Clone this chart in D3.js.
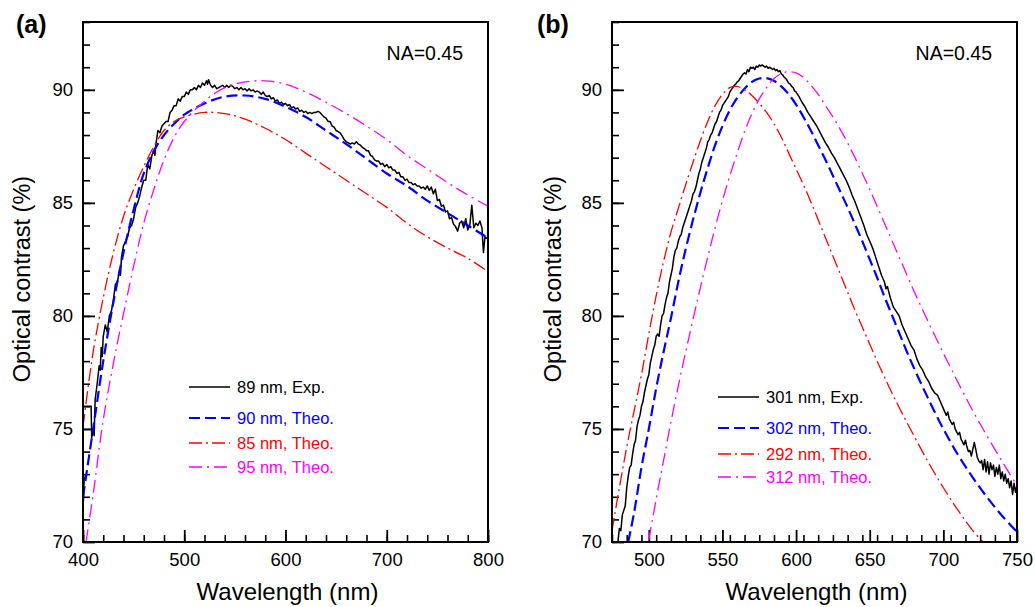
<!DOCTYPE html>
<html>
<head>
<meta charset="utf-8">
<script src="https://cdn.jsdelivr.net/npm/d3@7"></script>
<style>
  body { margin: 0; background: #fff; }
  text { font-family: Arial, "Liberation Sans", sans-serif; }
</style>
</head>
<body>
<div id="chart"></div>
<script>
// ---- panel (a) data: [wavelength nm, contrast %] ----
var expA = [[401.2,72.9],[400.4,71.8],[400,76.0],[408,76.0],[408.6,74.6],[410,75.0],[411,74.7],[412,76.3],[414,77.0],[416,77.8],[417,77.6],
  [418,78.6],[419,78.2],[420,79.1],[422,79.6],[424,79.3],[426,80.0],[428,80.2],[430,80.7],[432,81.4],[434,81.5],[436,82.0],[437,81.8],
  [438,82.6],[440,83.1],[442,83.3],[444,83.5],[446,83.9],[448,84.0],[450,84.3],[452,84.8],[454,85.0],[456,85.3],[458,85.7],[460,86.0],
  [462,86.0],[464,86.7],[466,86.5],[468,87.1],[470,87.3],[471,87.1],[472,87.6],[474,88.2],[476,88.1],[478,88.4],[480,88.5],[482,88.6],
  [484,88.6],[486,89.0],[488,89.1],[490,89.3],[492,89.3],[494,89.6],[496,89.5],[498,89.7],[500,89.7],[502,89.9],[504,89.8],[506,90.0],
  [508,90.0],[510,90.1],[512,90.0],[514,90.2],[516,90.1],[518,90.3],[520,90.2],[522,90.4],[523,90.25],[524,90.45],[526,90.2],[528,90.1],
  [530,90.2],[532,90.05],[534,90.1],[536,90.15],[538,90.2],[540,90.1],[542,90.2],[544,90.1],[546,90.2],[548,90.15],[550,90.05],[552,90.1],
  [554,90.0],[556,90.1],[558,90.0],[560,90.05],[562,89.95],[564,90.05],[566,89.95],[568,90.0],[570,89.9],[572,89.95],[574,89.9],[576,89.8],
  [578,89.9],[580,89.75],[582,89.7],[584,89.75],[586,89.6],[588,89.65],[590,89.5],[592,89.55],[594,89.4],[596,89.45],[598,89.35],[600,89.4],
  [602,89.3],[604,89.35],[606,89.2],[608,89.25],[610,89.15],[612,89.2],[614,89.05],[616,89.1],[618,89.0],[620,89.05],[622,88.95],[624,89.0],
  [626,88.95],[628,89.0],[630,89.0],[632,89.05],[634,89.0],[636,88.9],[638,88.8],[640,88.75],[642,88.6],[644,88.6],[646,88.4],[648,88.35],
  [650,88.2],[652,88.15],[654,88.1],[656,87.95],[658,87.8],[660,87.7],[662,87.65],[664,87.6],[666,87.65],[668,87.6],[670,87.7],[672,87.6],
  [674,87.55],[676,87.45],[678,87.4],[680,87.3],[682,87.3],[684,87.1],[686,87.05],[688,86.9],[690,86.85],[692,86.85],[694,86.7],[696,86.75],
  [698,86.6],[700,86.7],[702,86.55],[704,86.6],[706,86.45],[708,86.45],[710,86.3],[712,86.35],[714,86.15],[716,86.15],[718,86.0],[720,86.05],
  [722,85.9],[724,85.9],[726,85.8],[728,85.85],[730,85.75],[732,85.75],[734,85.65],[736,85.7],[738,85.6],[740,85.75],[742,85.55],[744,85.7],
  [746,85.4],[748,85.6],[750,85.1],[752,85.15],[754,84.85],[756,84.9],[758,84.6],[760,84.65],[762,84.3],[764,84.35],[766,84.05],[768,83.95],
  [770,83.75],[772,84.1],[774,84.2],[776,83.9],[778,84.3],[780,83.8],[782,84.0],[784,84.9],[786,83.9],[788,84.1],[790,84.0],[792,84.2],
  [794,83.9],[795.5,82.8],[797,83.5],[800,83.4]];
var theo90 = [[400,72.0],[410,75.0],[420,78.0],[430,80.6],[440,82.8],[450,84.7],[460,86.3],[470,87.3],[480,88.0],[490,88.5],[500,88.9],
  [520,89.4],[540,89.7],[560,89.75],[580,89.6],[600,89.25],[620,88.8],[640,88.2],[660,87.6],[680,86.95],[700,86.3],[720,85.75],[740,85.1],
  [760,84.55],[780,84.0],[800,83.45]];
var theo85 = [[400,75.1],[410,78.4],[420,80.8],[430,82.8],[440,84.4],[450,85.6],[460,86.6],[470,87.5],[480,88.2],[490,88.6],[500,88.8],
  [520,89.0],[540,88.95],[560,88.7],[580,88.3],[600,87.8],[620,87.2],[640,86.6],[660,86.0],[680,85.4],[700,84.8],[720,84.1],[740,83.5],
  [760,83.0],[780,82.55],[800,81.96]];
var theo95 = [[403,70.0],[410,72.1],[420,75.4],[430,77.9],[440,80.1],[450,82.2],[460,84.1],[470,85.6],[480,86.9],[490,87.9],[500,88.6],
  [520,89.5],[540,90.1],[560,90.35],[580,90.4],[600,90.25],[620,89.9],[640,89.45],[660,88.95],[680,88.4],[700,87.8],[720,87.1],[740,86.5],
  [760,85.9],[780,85.35],[800,84.85]];

// ---- panel (b) data ----
var expB = [[479,70.0],[480,70.6],[481,70.5],[482,71.2],[484,71.6],[485,72.4],[486,72.9],[487,73.3],[488,73.4],[489,73.9],[490,74.3],
  [491,74.5],[492,75.1],[493,75.4],[494,75.6],[495,76.0],[496,76.2],[497,76.6],[498,76.9],[499,77.2],[500,77.4],[501,77.9],[502,78.2],
  [503,78.5],[504,78.7],[505,79.1],[506,79.2],[507,79.1],[508,79.6],[509,80.0],[510,80.1],[511,80.5],[512,80.8],[513,81.0],[514,81.5],
  [515,81.8],[516,82.1],[517,82.6],[518,82.9],[519,83.0],[520,83.3],[521,83.5],[522,83.6],[523,83.9],[524,84.1],[526,84.5],[527,84.7],
  [528,84.9],[529,85.1],[530,85.4],[531,85.5],[532,85.7],[533,86.0],[534,86.3],[535,86.5],[536,86.8],[537,87.0],[538,87.2],[539,87.4],
  [540,87.7],[541,87.8],[542,88.0],[543,88.1],[544,88.3],[545,88.5],[546,88.6],[547,88.8],[548,89.0],[549,89.1],[550,89.3],[551,89.4],
  [552,89.5],[553,89.6],[554,89.7],[555,89.9],[556,90.0],[557,90.1],[558,90.2],[559,90.25],[560,90.35],[561,90.4],[562,90.5],[563,90.6],
  [564,90.7],[565,90.75],[566,90.7],[567,90.9],[568,90.8],[569,91.0],[570,90.95],[571,91.0],[572,90.9],[573,91.05],[574,91.0],[575,91.1],
  [576,91.05],[577,91.1],[578,91.05],[579,91.0],[580,91.05],[581,90.95],[582,91.0],[583,90.95],[584,90.9],[585,90.95],[586,90.85],
  [587,90.9],[588,90.8],[589,90.85],[590,90.7],[591,90.65],[592,90.55],[593,90.5],[594,90.4],[595,90.3],[596,90.25],[597,90.15],[598,90.1],
  [599,89.95],[600,89.9],[602,89.7],[604,89.45],[606,89.25],[608,89.0],[610,88.8],[612,88.6],[614,88.4],[616,88.15],[618,87.9],[620,87.65],
  [622,87.45],[624,87.2],[626,87.0],[628,86.75],[630,86.5],[632,86.25],[634,86.0],[636,85.7],[638,85.35],[640,85.05],[642,84.7],[644,84.35],
  [646,84.0],[648,83.6],[650,83.3],[652,83.0],[654,82.6],[656,82.2],[658,81.8],[660,81.5],[661,81.2],[662,81.3],[664,80.8],[666,80.4],
  [668,80.2],[670,80.0],[672,79.6],[674,79.3],[676,79.0],[678,78.7],[680,78.5],[682,78.1],[684,77.8],[686,77.6],[688,77.3],[690,77.1],
  [692,76.8],[694,76.6],[696,76.5],[698,76.2],[700,75.9],[702,75.6],[703,75.75],[704,75.45],[706,75.2],[707,75.3],[708,75.0],[710,74.75],
  [711,74.85],[712,74.55],[714,74.3],[715,74.5],[716,74.2],[717,74.0],[718,74.05],[719,73.8],[720,74.1],[721,74.4],[722,74.1],[723,73.75],
  [724,73.6],[725,73.5],[726,73.6],[727,73.2],[728,73.65],[729,73.1],[730,73.55],[731,73.0],[732,73.5],[733,73.2],[734,73.4],[735,72.9],
  [736,73.3],[737,73.0],[738,73.4],[739,72.8],[740,73.1],[741,72.7],[742,73.0],[743,72.6],[744,72.8],[745,72.4],[746,72.7],[747,72.1],
  [748,72.6],[749,72.2],[750,72.5]];
var theo302 = [[486,70.0],[490,71.3],[495,73.3],[500,75.0],[505,76.8],[510,78.4],[515,79.9],[520,81.5],[525,82.95],[530,84.25],[535,85.45],
  [540,86.55],[545,87.55],[550,88.4],[555,89.1],[560,89.65],[565,90.05],[570,90.35],[575,90.5],[580,90.52],[585,90.4],[590,90.15],[595,89.8],
  [600,89.35],[605,88.8],[610,88.2],[615,87.55],[620,86.9],[625,86.2],[630,85.5],[635,84.8],[640,84.05],[645,83.3],[650,82.5],[655,81.7],
  [660,80.85],[665,80.05],[670,79.25],[675,78.45],[680,77.7],[690,76.3],[700,75.0],[710,73.85],[720,72.85],[730,71.95],[740,71.15],[750,70.45]];
var theo292 = [[475,70.5],[480,72.4],[485,74.2],[490,75.8],[495,77.4],[500,79.2],[505,80.9],[510,82.4],[515,83.7],[520,84.75],[525,85.8],
  [530,86.8],[535,87.75],[540,88.6],[545,89.3],[550,89.8],[555,90.1],[560,90.15],[565,90.0],[570,89.75],[575,89.4],[580,89.0],[585,88.5],
  [590,87.9],[595,87.2],[600,86.5],[605,85.8],[610,85.05],[615,84.25],[620,83.45],[625,82.65],[630,81.85],[635,81.05],[640,80.25],[645,79.5],
  [650,78.75],[655,78.0],[660,77.3],[665,76.6],[670,75.95],[680,74.7],[690,73.5],[700,72.4],[710,71.4],[720,70.5],[727,70.0]];
var theo312 = [[500,70.1],[505,71.9],[510,73.6],[515,75.3],[520,76.9],[525,78.4],[530,79.85],[535,81.25],[540,82.6],[545,83.9],[550,85.1],
  [555,86.2],[560,87.2],[565,88.15],[570,88.95],[575,89.6],[580,90.1],[585,90.5],[590,90.72],[595,90.8],[600,90.75],[605,90.55],[610,90.2],
  [615,89.8],[620,89.3],[625,88.8],[630,88.25],[635,87.65],[640,87.0],[645,86.3],[650,85.6],[655,84.85],[660,84.1],[665,83.35],
  [670,82.6],[675,81.85],[680,81.1],[685,80.4],[690,79.7],[700,78.35],[710,77.05],[720,75.8],[730,74.65],[740,73.55],[750,72.5]];

var yMajor = [70, 75, 80, 85, 90];
var legendA = ["89 nm, Exp.", "90 nm, Theo.", "85 nm, Theo.", "95 nm, Theo."];
var legendB = ["301 nm, Exp.", "302 nm, Theo.", "292 nm, Theo.", "312 nm, Theo."];

var styles = [
  {color: "#000000", width: 1.5, dash: null},
  {color: "#0000ff", width: 2.2, dash: "11,5"},
  {color: "#ff0000", width: 1.3, dash: "13,4,2,4"},
  {color: "#ff00ff", width: 1.3, dash: "13,5,2,5"}
];

var svg = d3.select("#chart").append("svg")
  .attr("width", 1035).attr("height", 607);

function drawPanel(p) {
  var width = p.right - p.left, height = p.bottom - p.top;
  var g = svg.append("g").attr("transform", "translate(" + p.left + "," + p.top + ")");

  var x = d3.scaleLinear().domain(p.xDomain).range([0, width]);
  var y = d3.scaleLinear().domain([70, 93]).range([height, 0]);

  g.append("clipPath").attr("id", "clip" + p.id)
    .append("rect").attr("width", width).attr("height", height);

  // minor ticks
  var xMinor = d3.range(p.xDomain[0], p.xDomain[1] + 0.1, p.xMinorStep);
  g.append("g").attr("transform", "translate(0," + height + ")")
    .call(d3.axisBottom(x).tickValues(xMinor).tickSize(-7).tickFormat(""))
    .call(function(s) { s.select(".domain").remove(); s.selectAll("line").attr("stroke-width", 1.6); });
  g.append("g")
    .call(d3.axisLeft(y).tickValues(d3.range(71, 93.1, 1)).tickSize(-7).tickFormat(""))
    .call(function(s) { s.select(".domain").remove(); s.selectAll("line").attr("stroke-width", 1.6); });

  // major ticks + labels
  g.append("g").attr("transform", "translate(0," + height + ")")
    .call(d3.axisBottom(x).tickValues(p.xMajor).tickSize(-12).tickPadding(11).tickFormat(d3.format("d")))
    .call(function(s) {
      s.select(".domain").remove();
      s.selectAll("line").attr("stroke-width", 1.8);
      s.selectAll("text").attr("font-size", "18.5px").attr("font-family", "Arial, 'Liberation Sans', sans-serif").attr("fill", "#000");
    });
  g.append("g")
    .call(d3.axisLeft(y).tickValues(yMajor).tickSize(-12).tickPadding(10).tickFormat(d3.format("d")))
    .call(function(s) {
      s.select(".domain").remove();
      s.selectAll("line").attr("stroke-width", 1.8);
      s.selectAll("text").attr("font-size", "18.5px").attr("font-family", "Arial, 'Liberation Sans', sans-serif").attr("fill", "#000");
    });

  // curves: exp as measured, theory smoothed through the read points
  var line = d3.line().x(function(d) { return x(d[0]); }).y(function(d) { return y(d[1]); });
  var smooth = d3.line().x(function(d) { return x(d[0]); }).y(function(d) { return y(d[1]); }).curve(d3.curveCatmullRom.alpha(0.5));
  var curves = g.append("g").attr("clip-path", "url(#clip" + p.id + ")");
  p.series.forEach(function(s, i) {
    curves.append("path")
      .datum(s)
      .attr("fill", "none")
      .attr("stroke", styles[i].color)
      .attr("stroke-width", styles[i].width)
      .attr("stroke-dasharray", styles[i].dash)
      .attr("stroke-linejoin", "round")
      .attr("d", i === 0 ? line : smooth);
  });

  // frame
  g.append("rect").attr("width", width).attr("height", height)
    .attr("fill", "none").attr("stroke", "#000").attr("stroke-width", 2);

  // legend
  p.legend.forEach(function(label, i) {
    var ly = p.legendY[i] - p.top;
    g.append("line")
      .attr("x1", p.legendX - p.left).attr("x2", p.legendX - p.left + 41)
      .attr("y1", ly).attr("y2", ly)
      .attr("stroke", styles[i].color)
      .attr("stroke-width", i === 0 ? 1.6 : styles[i].width)
      .attr("stroke-dasharray", styles[i].dash);
    g.append("text")
      .attr("x", p.legendX - p.left + 48).attr("y", ly)
      .attr("dy", "0.36em")
      .attr("font-size", "16.5px")
      .attr("fill", styles[i].color)
      .text(label);
  });

  // NA label
  g.append("text").attr("x", width - 25).attr("y", 60 - p.top)
    .attr("text-anchor", "end").attr("font-size", "19.5px").text("NA=0.45");

  // axis titles
  svg.append("text")
    .attr("x", (p.left + p.right) / 2 + 2).attr("y", 600)
    .attr("text-anchor", "middle").attr("font-size", "24px")
    .text("Wavelength (nm)");
  svg.append("text")
    .attr("transform", "translate(" + p.yTitleX + ",279) rotate(-90)")
    .attr("text-anchor", "middle").attr("font-size", "23.5px")
    .text("Optical contrast (%)");

  // panel letter
  svg.append("text")
    .attr("x", p.letterX).attr("y", 33)
    .attr("font-size", "25px").attr("font-weight", "bold")
    .text(p.letter);
}

drawPanel({
  id: "a", left: 83, right: 488, top: 22, bottom: 542,
  xDomain: [400, 800], xMajor: [400, 500, 600, 700, 800], xMinorStep: 20,
  series: [expA, theo90, theo85, theo95],
  legend: legendA, legendX: 189, legendY: [387, 418, 443, 467],
  yTitleX: 30, letterX: 16, letter: "(a)"
});
drawPanel({
  id: "b", left: 612, right: 1017, top: 22, bottom: 542,
  xDomain: [475, 750], xMajor: [500, 550, 600, 650, 700, 750], xMinorStep: 10,
  series: [expB, theo302, theo292, theo312],
  legend: legendB, legendX: 718, legendY: [397, 428, 454, 477],
  yTitleX: 561, letterX: 537, letter: "(b)"
});
</script>
</body>
</html>
